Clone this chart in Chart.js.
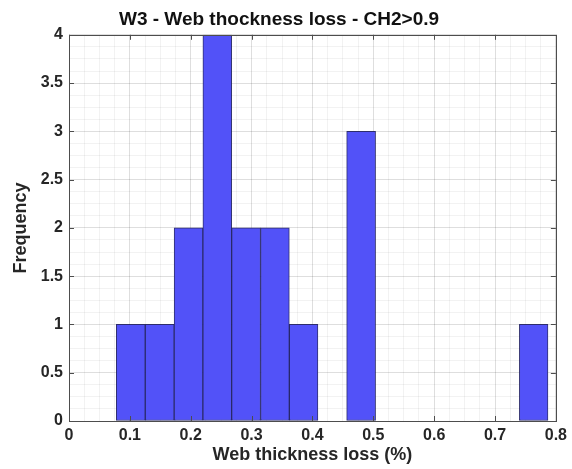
<!DOCTYPE html>
<html>
<head>
<meta charset="utf-8">
<script src="https://cdn.jsdelivr.net/npm/chart.js@4"></script>
<style>
  html, body { margin: 0; padding: 0; background: #fff; }
  #wrap { width: 572px; height: 469px; }
</style>
</head>
<body>
<div id="wrap"><canvas id="hist"></canvas></div>
<script>
// Histogram data
const binEdges = [0.078, 0.125, 0.173, 0.220, 0.267, 0.315, 0.362, 0.409,
                  0.456, 0.504, 0.551, 0.598, 0.645, 0.693, 0.740, 0.787];
const counts = [1, 1, 2, 4, 2, 2, 1, 0, 3, 0, 0, 0, 0, 0, 1];

const titleText = "W3 - Web thockness loss - CH2>0.9";
const xTitle = "Web thickness loss (%)";
const yTitle = "Frequency";

const points = counts.map((c, i) => ({
    x: (binEdges[i] + binEdges[i + 1]) / 2,
    y: c
}));

const fontFamily = "'Liberation Sans', Arial, Helvetica, sans-serif";

function isMultiple(v, step) {
    const r = v / step;
    return Math.abs(r - Math.round(r)) < 1e-6;
}

// box around the axes plus inward tick marks, like the matlab figure
const boxPlugin = {
    id: "box",
    afterDraw(chart) {
        const ctx = chart.ctx;
        const a = chart.chartArea;
        const xs = chart.scales.x;
        const ys = chart.scales.y;
        ctx.save();
        ctx.strokeStyle = "#4d4d4d";
        ctx.lineWidth = 1;
        ctx.beginPath();
        for (let v = 0; v <= 0.8 + 1e-9; v += 0.1) {
            const px = Math.round(xs.getPixelForValue(v)) + 0.5;
            ctx.moveTo(px, a.bottom); ctx.lineTo(px, a.bottom - 5);
            ctx.moveTo(px, a.top); ctx.lineTo(px, a.top + 5);
        }
        for (let v = 0; v <= 4 + 1e-9; v += 0.5) {
            const py = Math.round(ys.getPixelForValue(v)) + 0.5;
            ctx.moveTo(a.left, py); ctx.lineTo(a.left + 5, py);
            ctx.moveTo(a.right, py); ctx.lineTo(a.right - 5, py);
        }
        ctx.stroke();
        ctx.strokeRect(Math.round(a.left) + 0.5, Math.round(a.top) + 0.5,
                       Math.round(a.right - a.left), Math.round(a.bottom - a.top));
        ctx.restore();
    }
};

const ctx = document.getElementById("hist").getContext("2d");

new Chart(ctx, {
    type: "bar",
    data: {
        datasets: [{
            label: "Frequency",
            data: points,
            backgroundColor: "rgb(82, 82, 248)",
            borderColor: "rgba(25, 25, 95, 0.9)",
            borderWidth: 1,
            borderSkipped: false,
            barThickness: "flex",
            barPercentage: 1,
            categoryPercentage: 1
        }]
    },
    options: {
        responsive: true,
        maintainAspectRatio: false,
        animation: false,
        layout: { padding: { top: 0, right: 14, bottom: 0, left: 0 } },
        plugins: {
            legend: { display: false },
            tooltip: { enabled: false },
            title: {
                display: true,
                text: titleText,
                color: "#111",
                font: { family: fontFamily, size: 19, weight: "bold" },
                padding: { top: 8, bottom: 4 }
            }
        },
        scales: {
            x: {
                type: "linear",
                min: 0,
                max: 0.8,
                offset: false,
                afterFit: s => { s.height = 48; },
                grid: {
                    offset: false,
                    drawTicks: false,
                    color: c => isMultiple(c.tick.value, 0.1) ? "rgba(0,0,0,0.13)" : "rgba(0,0,0,0.05)"
                },
                border: { display: false },
                ticks: {
                    stepSize: 0.025,
                    autoSkip: false,
                    maxRotation: 0,
                    padding: 5,
                    color: "#262626",
                    font: { family: fontFamily, size: 16, weight: "bold" },
                    callback: v => isMultiple(v, 0.1) ? String(Math.round(v * 10) / 10) : ""
                },
                title: {
                    display: true,
                    text: xTitle,
                    color: "#262626",
                    font: { family: fontFamily, size: 18, weight: "bold" },
                    padding: { top: 0, bottom: 3 }
                }
            },
            y: {
                min: 0,
                max: 4,
                afterFit: s => { s.width = 69; },
                grid: {
                    drawTicks: false,
                    color: c => isMultiple(c.tick.value, 0.5) ? "rgba(0,0,0,0.13)" : "rgba(0,0,0,0.05)"
                },
                border: { display: false },
                ticks: {
                    stepSize: 0.125,
                    autoSkip: false,
                    padding: 6,
                    color: "#262626",
                    font: { family: fontFamily, size: 16, weight: "bold" },
                    callback: v => isMultiple(v, 0.5) ? String(Math.round(v * 10) / 10) : ""
                },
                title: {
                    display: true,
                    text: yTitle,
                    color: "#262626",
                    font: { family: fontFamily, size: 18, weight: "bold" },
                    padding: { top: 10, bottom: 0 }
                }
            }
        }
    },
    plugins: [boxPlugin]
});
</script>
</body>
</html>
